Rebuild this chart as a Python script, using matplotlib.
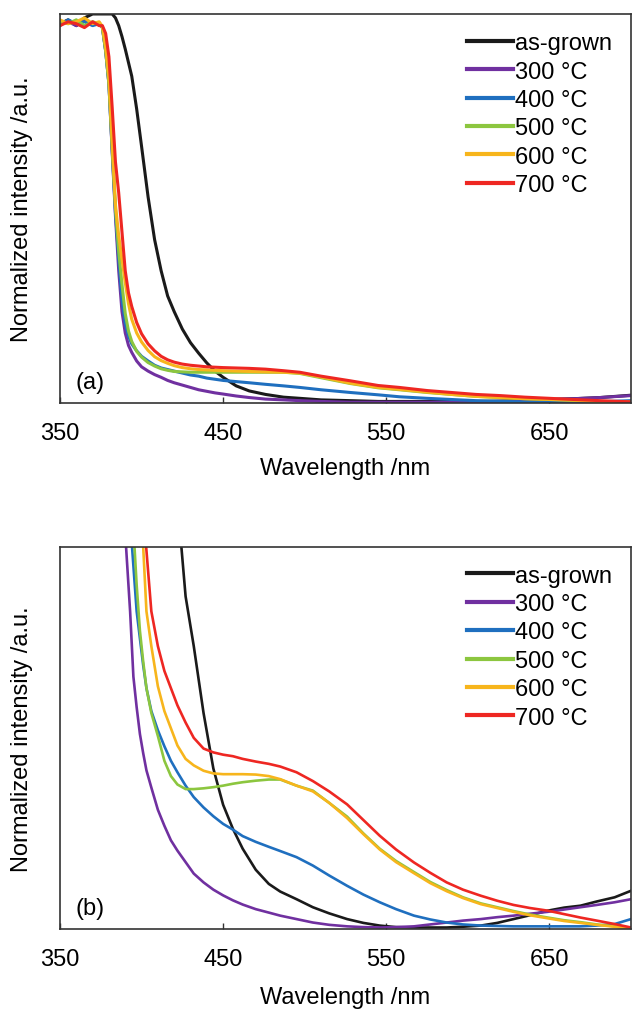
import matplotlib
matplotlib.use('Agg')
import matplotlib.pyplot as plt
import numpy as np

plt.rcParams['font.family'] = ['Liberation Sans', 'DejaVu Sans']

labels = ['as-grown', '300 °C', '400 °C', '500 °C', '600 °C', '700 °C']
colors = ['#1a1a1a', '#7030a0', '#1f6fbf', '#8cc63f', '#f7b51c', '#ee2722']
nan = np.nan

# ---- panel (a): full range, normalized intensity (0..1)
wl_a = [350, 355, 360, 365, 370, 374, 376, 378, 380, 382, 384, 386, 388, 390, 392, 394,
        397, 400, 404, 408, 412, 416, 420, 425, 430, 435, 440, 445, 450, 458, 466, 476,
        487, 497, 510, 528, 545, 558, 575, 590, 605, 620, 635, 650, 665, 681, 700]
a_asgrown = [0.975, 0.985, 0.97, 0.99, 1.0, 1.0, 1.0, 1.0, 1.0, 1.0, 0.99, 0.97, 0.942, 0.91,
             0.875, 0.84, 0.756, 0.66, 0.53, 0.42, 0.34, 0.275, 0.235, 0.19, 0.155, 0.128,
             0.103, 0.082, 0.066, 0.044, 0.031, 0.022, 0.015, 0.012, 0.008, 0.006, 0.004,
             0.004, 0.004, 0.004, 0.004, 0.005, 0.007, 0.009, 0.011, 0.014, 0.020]
a_300 = [0.975, 0.98, 0.97, 0.982, 0.975, 0.978, 0.965, 0.905, 0.82, 0.645, 0.48, 0.34, 0.235,
         0.18, 0.148, 0.13, 0.108, 0.093, 0.082, 0.073, 0.066, 0.058, 0.052, 0.046, 0.040,
         0.034, 0.030, 0.026, 0.023, 0.018, 0.014, 0.010, 0.008, 0.006, 0.004, 0.002, 0.002,
         0.002, 0.002, 0.002, 0.003, 0.004, 0.006, 0.009, 0.011, 0.014, 0.019]
a_400 = [0.97, 0.985, 0.975, 0.98, 0.97, 0.975, 0.965, 0.905, 0.82, 0.65, 0.49, 0.37, 0.265,
         0.205, 0.172, 0.152, 0.134, 0.12, 0.108, 0.097, 0.09, 0.086, 0.082, 0.077, 0.072,
         0.069, 0.064, 0.061, 0.058, 0.055, 0.052, 0.048, 0.044, 0.040, 0.034, 0.027, 0.021,
         0.016, 0.012, 0.009, 0.006, 0.004, 0.003, 0.002, 0.002, 0.003, 0.006]
a_500 = [0.98, 0.975, 0.985, 0.97, 0.98, 0.975, 0.965, 0.905, 0.82, 0.655, 0.5, 0.39, 0.305,
         0.23, 0.185, 0.158, 0.133, 0.118, 0.104, 0.095, 0.088, 0.084, 0.081, 0.080, 0.079,
         0.079, 0.079, 0.079, 0.079, 0.079, 0.079, 0.079, 0.079, 0.076, 0.065, 0.05, 0.039,
         0.034, 0.027, 0.022, 0.017, 0.014, 0.011, 0.009, 0.007, 0.004, 0.002]
a_600 = [0.985, 0.975, 0.98, 0.99, 0.975, 0.98, 0.968, 0.915, 0.835, 0.67, 0.51, 0.43, 0.37,
         0.31, 0.255, 0.215, 0.18, 0.157, 0.135, 0.119, 0.109, 0.102, 0.096, 0.091, 0.088,
         0.086, 0.085, 0.084, 0.083, 0.082, 0.081, 0.080, 0.079, 0.077, 0.067, 0.051, 0.040,
         0.035, 0.028, 0.022, 0.017, 0.014, 0.011, 0.009, 0.007, 0.004, 0.002]
a_700 = [0.97, 0.98, 0.975, 0.965, 0.98, 0.97, 0.97, 0.95, 0.89, 0.76, 0.62, 0.54, 0.44,
         0.34, 0.283, 0.248, 0.207, 0.178, 0.152, 0.134, 0.12, 0.111, 0.105, 0.1, 0.097,
         0.095, 0.093, 0.092, 0.091, 0.09, 0.089, 0.087, 0.083, 0.079, 0.069, 0.057, 0.045,
         0.040, 0.032, 0.027, 0.022, 0.019, 0.015, 0.012, 0.009, 0.006, 0.003]

# ---- panel (b): expanded low-intensity region (fraction of axis height)
wl_b = [388, 390.5, 393, 395, 397, 399, 401, 403, 406, 410, 414, 418, 422, 427, 432, 438,
        444, 450, 456, 462, 470, 478, 485, 495, 505, 515, 526, 536, 546, 556, 567, 577,
        587, 597, 608, 618, 628, 638, 649, 659, 669, 679, 690, 700]
b_asgrown = [nan, nan, nan, nan, nan, nan, nan, nan, nan, nan, nan, 1.4, 1.12, 0.87, 0.74,
             0.565, 0.42, 0.325, 0.262, 0.21, 0.155, 0.118, 0.098, 0.078, 0.057, 0.041,
             0.026, 0.016, 0.009, 0.005, 0.004, 0.004, 0.004, 0.006, 0.009, 0.016, 0.026,
             0.036, 0.048, 0.056, 0.061, 0.072, 0.083, 0.100]
b_300 = [1.4, 1.0, 0.83, 0.66, 0.58, 0.51, 0.46, 0.415, 0.37, 0.312, 0.27, 0.232, 0.205,
         0.175, 0.145, 0.122, 0.103, 0.088, 0.075, 0.064, 0.052, 0.043, 0.035, 0.026, 0.017,
         0.011, 0.007, 0.005, 0.004, 0.005, 0.007, 0.012, 0.017, 0.022, 0.026, 0.031, 0.035,
         0.040, 0.045, 0.051, 0.057, 0.063, 0.070, 0.078]
b_400 = [nan, nan, 1.07, 0.95, 0.831, 0.76, 0.69, 0.63, 0.57, 0.52, 0.478, 0.44, 0.41, 0.375,
         0.345, 0.318, 0.295, 0.275, 0.26, 0.243, 0.228, 0.215, 0.204, 0.188, 0.166, 0.14,
         0.113, 0.09, 0.070, 0.052, 0.035, 0.025, 0.017, 0.012, 0.009, 0.008, 0.007, 0.007,
         0.007, 0.007, 0.007, 0.009, 0.013, 0.026]
b_500 = [nan, nan, nan, 1.05, 0.9, 0.78, 0.7, 0.63, 0.565, 0.505, 0.44, 0.40, 0.378, 0.366,
         0.366, 0.368, 0.371, 0.375, 0.38, 0.384, 0.388, 0.391, 0.391, 0.375, 0.362, 0.33,
         0.294, 0.25, 0.21, 0.178, 0.149, 0.123, 0.102, 0.083, 0.067, 0.057, 0.047, 0.038,
         0.030, 0.023, 0.018, 0.012, 0.007, 0.002]
b_600 = [nan, nan, nan, nan, nan, 1.08, 1.0, 0.831, 0.74, 0.635, 0.57, 0.525, 0.48, 0.445,
         0.428, 0.414, 0.407, 0.405, 0.405, 0.405, 0.404, 0.40, 0.392, 0.375, 0.36, 0.33,
         0.29, 0.248, 0.208, 0.175, 0.146, 0.12, 0.099, 0.081, 0.065, 0.055, 0.045, 0.036,
         0.028, 0.021, 0.016, 0.011, 0.006, 0.002]
b_700 = [nan, nan, nan, nan, nan, nan, 1.1, 0.99, 0.831, 0.74, 0.675, 0.63, 0.585, 0.54,
         0.50, 0.472, 0.462, 0.456, 0.452, 0.445, 0.438, 0.432, 0.425, 0.41, 0.387, 0.36,
         0.326, 0.285, 0.244, 0.208, 0.174, 0.147, 0.122, 0.103, 0.087, 0.074, 0.063, 0.055,
         0.048, 0.039, 0.030, 0.022, 0.013, 0.004]

panel_a = [a_asgrown, a_300, a_400, a_500, a_600, a_700]
panel_b = [b_asgrown, b_300, b_400, b_500, b_600, b_700]

fig = plt.figure(figsize=(6.32, 10.12), dpi=100)
ax_a = fig.add_axes([0.0949, 0.6008, 0.9035, 0.3844])
ax_b = fig.add_axes([0.0949, 0.0810, 0.9035, 0.3778])

fs = 17
for ax, wl, data, lw, tag, xpad in [(ax_a, wl_a, panel_a, 2.2, '(a)', 9),
                                    (ax_b, wl_b, panel_b, 1.9, '(b)', 11)]:
    for y, lab, c in zip(data, labels, colors):
        ax.plot(wl, y, color=c, lw=lw, label=lab)
    ax.set_xlim(350, 700)
    ax.set_ylim(0, 1)
    ax.set_yticks([])
    ax.set_xticks([350, 450, 550, 650])
    ax.tick_params(axis='x', direction='in', length=4.5, width=1, color='#333333',
                   labelsize=fs, pad=14)
    for sp in ax.spines.values():
        sp.set_color('#333333')
        sp.set_linewidth(1.2)
    ax.set_xlabel('Wavelength /nm', fontsize=fs, labelpad=xpad)
    ax.set_ylabel('Normalized intensity /a.u.', fontsize=fs)
    ax.yaxis.set_label_coords(-0.047, 0.5)
    ax.text(0.052, 0.054, tag, transform=ax.transAxes, fontsize=fs,
            ha='center', va='center')
    leg = ax.legend(loc='upper left', bbox_to_anchor=(0.712, 0.953), frameon=False,
                    fontsize=fs, handlelength=1.95, handletextpad=0.1, labelspacing=0.27,
                    borderpad=0, borderaxespad=0)
    for h in leg.get_lines():
        h.set_linewidth(3)

fig.savefig('out.png', dpi=100)
